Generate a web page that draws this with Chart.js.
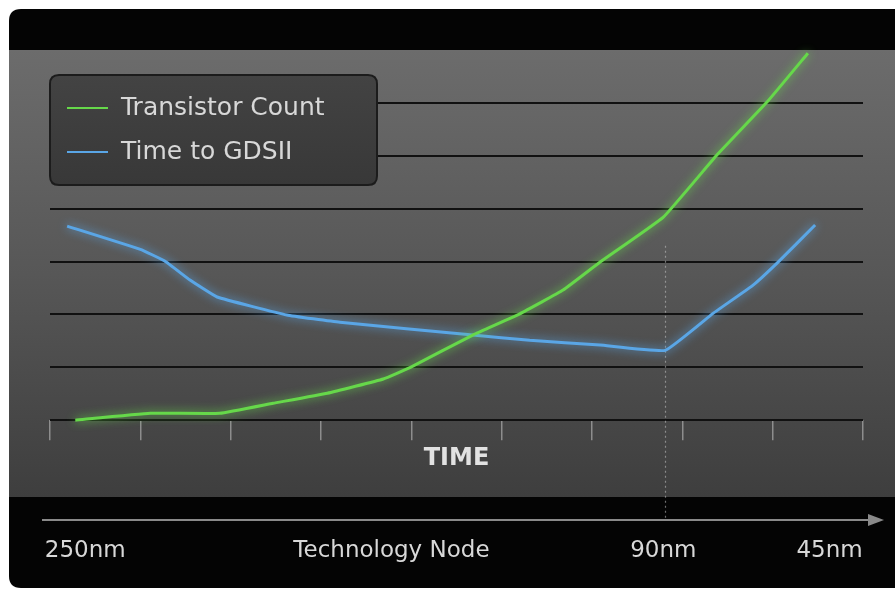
<!DOCTYPE html>
<html>
<head>
<meta charset="utf-8">
<script src="https://cdn.jsdelivr.net/npm/chart.js@4"></script>
<style>
  html, body { margin: 0; padding: 0; background: #fff; }
  #wrap { width: 895px; height: 590px; }
</style>
</head>
<body>
<div id="wrap"><canvas id="nodeChart" width="895" height="590"></canvas></div>
<script>
// values (x: tick index 0..9, y: gridline index 0..7)
const transistorX = [0.28, 1.11, 1.88, 2.47, 3.07, 3.69, 3.99, 4.68, 5.20, 5.68, 6.09, 6.79, 7.38, 7.94, 8.39];
const transistorY = [0, 0.13, 0.13, 0.32, 0.51, 0.78, 1.00, 1.61, 2.01, 2.46, 2.99, 3.84, 5.01, 6.02, 6.94];

const gdsiiX = [0.19, 1.00, 1.27, 1.55, 1.85, 2.62, 3.21, 4.68, 5.31, 6.09, 6.81, 7.34, 7.78, 8.06, 8.47];
const gdsiiY = [3.67, 3.23, 3.01, 2.65, 2.33, 1.99, 1.85, 1.61, 1.51, 1.42, 1.32, 2.02, 2.55, 2.99, 3.69];

const nodeLabels = ['250nm', 'Technology Node', '90nm', '45nm'];
const nodePositions = [0.39, 3.78, 6.79, 8.63];
const markerNode = 6.81; // 90nm dotted marker

const seriesNames = ['Transistor Count', 'Time to GDSII'];
const seriesColors = ['#66d84a', '#5aa6e6'];

const FONT = '"DejaVu Sans", sans-serif';

function toPoints(xs, ys) {
  return xs.map((x, i) => ({ x: x, y: ys[i] }));
}

function roundRect(ctx, x, y, w, h, r) {
  ctx.beginPath();
  ctx.moveTo(x + r, y);
  ctx.lineTo(x + w - r, y);
  ctx.quadraticCurveTo(x + w, y, x + w, y + r);
  ctx.lineTo(x + w, y + h - r);
  ctx.quadraticCurveTo(x + w, y + h, x + w - r, y + h);
  ctx.lineTo(x + r, y + h);
  ctx.quadraticCurveTo(x, y + h, x, y + h - r);
  ctx.lineTo(x, y + r);
  ctx.quadraticCurveTo(x, y, x + r, y);
  ctx.closePath();
}

// dark panel, gray plot band, arrow, legend box and node labels
const panelPlugin = {
  id: 'panel',
  beforeDraw(chart) {
    const ctx = chart.ctx;
    const area = chart.chartArea;
    ctx.save();
    ctx.fillStyle = '#fff';
    ctx.fillRect(0, 0, chart.width, chart.height);

    ctx.fillStyle = '#040404';
    roundRect(ctx, 9, 9, chart.width + 20, chart.height - 11, 12);
    ctx.fill();

    const grad = ctx.createLinearGradient(0, area.top, 0, 497);
    grad.addColorStop(0, '#6c6c6c');
    grad.addColorStop(0.5, '#575757');
    grad.addColorStop(1, '#3e3e3e');
    ctx.fillStyle = grad;
    ctx.fillRect(9, area.top, chart.width - 9, 497 - area.top);
    ctx.restore();
  },
  beforeDatasetsDraw(chart) {
    // dotted marker at 90nm
    const ctx = chart.ctx;
    const x = Math.round(chart.scales.x.getPixelForValue(markerNode)) + 0.5;
    ctx.save();
    ctx.strokeStyle = 'rgba(200,200,200,0.55)';
    ctx.lineWidth = 1.2;
    ctx.setLineDash([2, 3]);
    ctx.beginPath();
    ctx.moveTo(x, chart.scales.y.getPixelForValue(3.3));
    ctx.lineTo(x, 518);
    ctx.stroke();
    ctx.restore();
  },
  beforeDatasetDraw(chart, args) {
    const ctx = chart.ctx;
    ctx.save();
    ctx.shadowColor = seriesColors[args.index];
    ctx.shadowBlur = 10;
  },
  afterDatasetDraw(chart) {
    chart.ctx.restore();
  },
  afterDraw(chart) {
    const ctx = chart.ctx;
    const xs = chart.scales.x;
    ctx.save();

    // arrow along the bottom
    ctx.strokeStyle = '#8a8a8a';
    ctx.fillStyle = '#8a8a8a';
    ctx.lineWidth = 2;
    ctx.beginPath();
    ctx.moveTo(42, 520);
    ctx.lineTo(872, 520);
    ctx.stroke();
    ctx.beginPath();
    ctx.moveTo(884, 520);
    ctx.lineTo(868, 514);
    ctx.lineTo(868, 526);
    ctx.closePath();
    ctx.fill();

    // node labels
    ctx.fillStyle = '#d8d8d8';
    ctx.font = '23px ' + FONT;
    ctx.textAlign = 'center';
    ctx.textBaseline = 'alphabetic';
    nodeLabels.forEach((label, i) => {
      ctx.fillText(label, xs.getPixelForValue(nodePositions[i]), 557);
    });

    // legend box
    const lx = 50, ly = 75, lw = 327, lh = 110;
    const lg = ctx.createLinearGradient(0, ly, 0, ly + lh);
    lg.addColorStop(0, '#434343');
    lg.addColorStop(1, '#383838');
    ctx.fillStyle = lg;
    roundRect(ctx, lx, ly, lw, lh, 9);
    ctx.fill();
    ctx.strokeStyle = '#1c1c1c';
    ctx.lineWidth = 2;
    ctx.stroke();

    ctx.font = '25px ' + FONT;
    ctx.textAlign = 'left';
    ctx.textBaseline = 'middle';
    chart.data.datasets.forEach((ds, i) => {
      const y = 108 + i * 44;
      ctx.strokeStyle = ds.borderColor;
      ctx.lineWidth = 2;
      ctx.beginPath();
      ctx.moveTo(67, y);
      ctx.lineTo(108, y);
      ctx.stroke();
      ctx.fillStyle = '#d8d8d8';
      ctx.fillText(ds.label, 121, y);
    });
    ctx.restore();
  }
};

const ctx = document.getElementById('nodeChart').getContext('2d');
const nodeChart = new Chart(ctx, {
  type: 'line',
  data: {
    datasets: [{
      label: seriesNames[0],
      data: toPoints(transistorX, transistorY),
      borderColor: seriesColors[0],
      borderWidth: 3,
      pointRadius: 0,
      tension: 0.1,
      clip: false
    }, {
      label: seriesNames[1],
      data: toPoints(gdsiiX, gdsiiY),
      borderColor: seriesColors[1],
      borderWidth: 3,
      pointRadius: 0,
      tension: 0.1,
      clip: false
    }]
  },
  options: {
    responsive: false,
    animation: false,
    layout: {
      padding: { left: 50, right: 32, top: 50, bottom: 111 }
    },
    plugins: {
      legend: { display: false },
      tooltip: { enabled: false }
    },
    scales: {
      x: {
        type: 'linear',
        min: 0,
        max: 9,
        ticks: { display: false, stepSize: 1 },
        border: { display: false },
        grid: {
          drawOnChartArea: false,
          drawTicks: true,
          tickLength: 20,
          color: 'rgba(190,190,190,0.6)',
          lineWidth: 1.5
        },
        title: {
          display: true,
          text: 'TIME',
          color: '#e2e2e2',
          font: { family: FONT, size: 24, weight: 'bold' },
          padding: { top: 4, bottom: 6 }
        }
      },
      y: {
        min: 0,
        max: 7,
        ticks: { display: false, stepSize: 1 },
        border: { display: false },
        grid: {
          drawTicks: false,
          lineWidth: 2,
          color: (c) => c.tick && c.tick.value === 7 ? 'rgba(0,0,0,0)' : '#111'
        }
      }
    }
  },
  plugins: [panelPlugin]
});
</script>
</body>
</html>
